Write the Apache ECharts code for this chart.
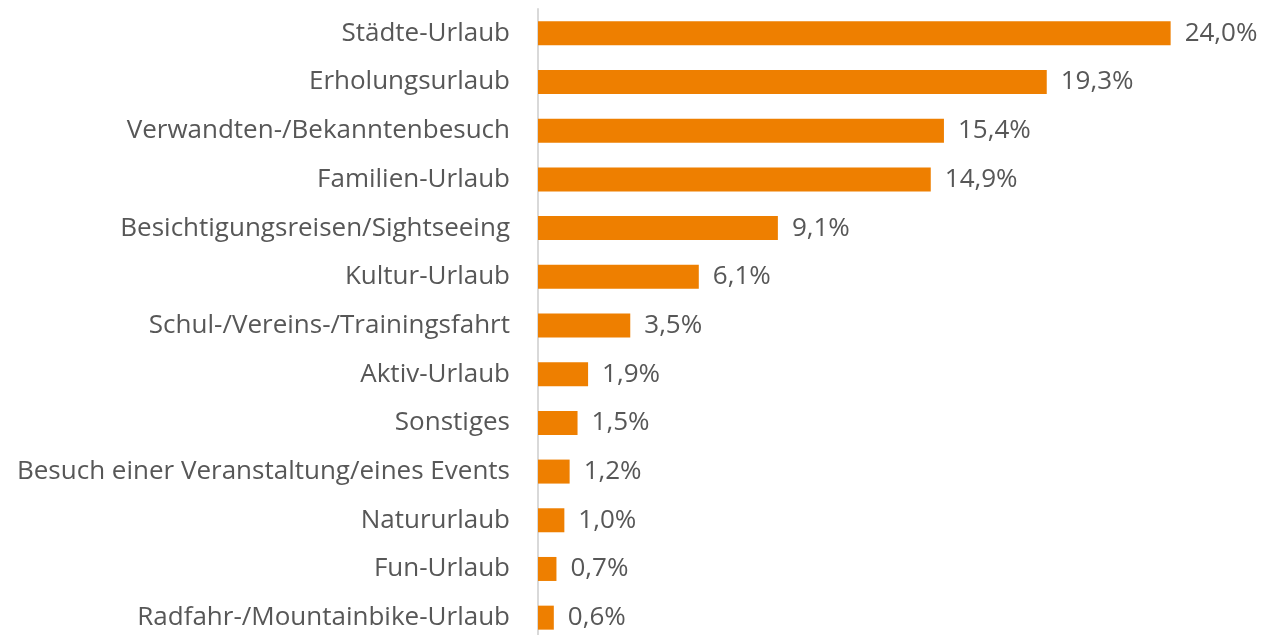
<!DOCTYPE html>
<html>
<head>
<meta charset="utf-8">
<script src="https://cdn.jsdelivr.net/npm/echarts@6/dist/echarts.min.js"></script>
<style>
  html, body { margin: 0; padding: 0; background: #fff; overflow: hidden; }
  #chart { width: 1265px; height: 650px; }
</style>
</head>
<body>
<div id="chart"></div>
<script>
var categories = [
  'Städte-Urlaub',
  'Erholungsurlaub',
  'Verwandten-/Bekanntenbesuch',
  'Familien-Urlaub',
  'Besichtigungsreisen/Sightseeing',
  'Kultur-Urlaub',
  'Schul-/Vereins-/Trainingsfahrt',
  'Aktiv-Urlaub',
  'Sonstiges',
  'Besuch einer Veranstaltung/eines Events',
  'Natururlaub',
  'Fun-Urlaub',
  'Radfahr-/Mountainbike-Urlaub'
];
var values = [24.0, 19.3, 15.4, 14.9, 9.1, 6.1, 3.5, 1.9, 1.5, 1.2, 1.0, 0.7, 0.6];

var font = 'Open Sans';
var chart = echarts.init(document.getElementById('chart'));

// the lowest row is cut by the bottom edge in the original, so the canvas runs a bit past the window
chart.setOption({
  backgroundColor: '#ffffff',
  animation: false,
  grid: { left: 538, right: 68, top: 9, bottom: 8 },
  xAxis: {
    type: 'value',
    min: 0,
    max: 25,
    show: false
  },
  yAxis: {
    type: 'category',
    data: categories,
    inverse: true,
    axisLine: { show: true, lineStyle: { color: '#d9d9d9', width: 2 } },
    axisTick: { show: false },
    axisLabel: {
      color: '#575757',
      fontFamily: font,
      fontSize: 26,
      margin: 28
    }
  },
  series: [{
    type: 'bar',
    data: values,
    barWidth: 24,
    itemStyle: { color: '#EE7F00' },
    label: {
      show: true,
      position: 'right',
      distance: 14,
      color: '#575757',
      fontFamily: font,
      fontSize: 26,
      formatter: function (p) {
        return p.value.toFixed(1).replace('.', ',') + '%';
      }
    }
  }]
});
</script>
</body>
</html>
